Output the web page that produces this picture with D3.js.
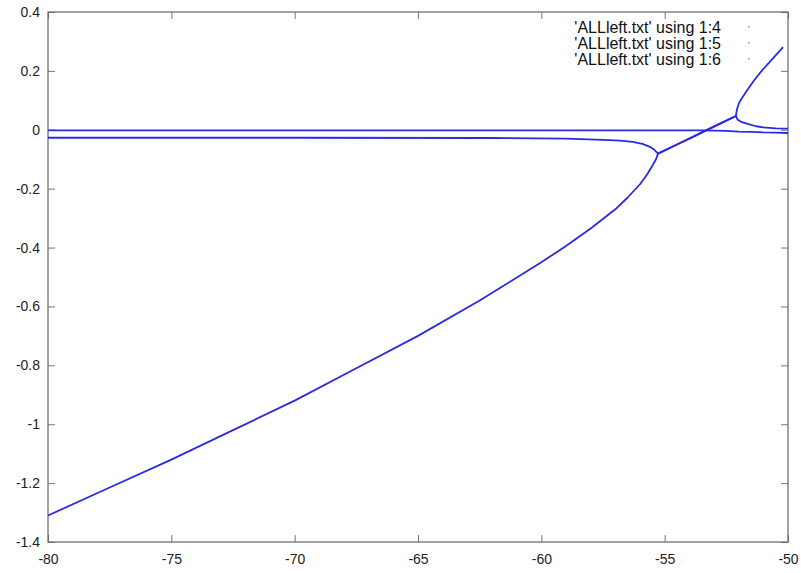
<!DOCTYPE html>
<html>
<head>
<meta charset="utf-8">
<script src="https://cdn.jsdelivr.net/npm/d3@7"></script>
<style>
  body { margin: 0; background: #fff; }
  .axis text { font-family: "Liberation Sans", Arial, sans-serif; font-size: 14px; fill: #222; }
  .axis line { stroke: #777; }
  .axis path { display: none; }
  .key { font-family: "Liberation Sans", Arial, sans-serif; font-size: 16px; fill: #111; }
</style>
</head>
<body>
<div class="chart"></div>
<script>
// ticks
var xTicks = [-80, -75, -70, -65, -60, -55, -50]
var yTicks = [0.4, 0.2, 0, -0.2, -0.4, -0.6, -0.8, -1, -1.2, -1.4]

var keys = ["'ALLleft.txt' using 1:4", "'ALLleft.txt' using 1:5", "'ALLleft.txt' using 1:6"]

// column 4 : flat branch near zero
var x4 = [-80, -70, -60, -55, -53.5, -53, -52.5, -52, -51.5, -51, -50.5, -50]
var y4 = [-0.002, -0.002, -0.002, -0.002, -0.002, -0.003, -0.004, -0.006, -0.007, -0.009, -0.010, -0.011]

// column 5 : small branch, merges at fold, splits again and rises
var x5 = [-80, -70, -62, -59, -57.5, -56.8, -56.3, -55.9, -55.6, -55.45, -55.27,
          -54.5, -54, -53.3, -52.5, -52.11,
          -52.09, -52.05, -51.98, -51.85, -51.65, -51.4, -51.1, -50.6, -50.2]
var y5 = [-0.027, -0.027, -0.028, -0.030, -0.034, -0.037, -0.041, -0.048, -0.058, -0.066, -0.081,
          -0.050, -0.030, -0.001, 0.031, 0.047,
          0.060, 0.075, 0.092, 0.110, 0.135, 0.165, 0.197, 0.243, 0.281]

// column 6 : steep lower branch, same real part through the pair, then decays to zero
var x6 = [-80, -77.5, -75, -72.5, -70, -67.5, -65, -62.5, -60, -59, -58, -57, -56.5, -56, -55.7, -55.5, -55.35, -55.27,
          -54.5, -54, -53.3, -52.5, -52.11,
          -52.05, -51.9, -51.67, -51.3, -51.0, -50.5, -50]
var y6 = [-1.31, -1.215, -1.12, -1.02, -0.92, -0.81, -0.70, -0.58, -0.45, -0.395, -0.335, -0.27, -0.23, -0.185, -0.15, -0.122, -0.10, -0.081,
          -0.050, -0.030, -0.001, 0.031, 0.047,
          0.035, 0.027, 0.021, 0.012, 0.008, 0.005, 0.004]

var series = [[x4, y4], [x5, y5], [x6, y6]]

var W = 801, H = 573
var pLeft = 48, pRight = 788, pTop = 12, pBottom = 542

let svg = d3.select('div.chart').append('svg').attr('width', W).attr('height', H)

//Scale
let xScale = d3.scaleLinear().domain([-80, -50]).range([pLeft, pRight])
let yScale = d3.scaleLinear().domain([-1.4, 0.4]).range([pBottom, pTop])

//Axis (ticks point inward, mirrored on the other side)
svg.append('g').attr('class', 'axis')
  .attr('transform', 'translate(0,' + pBottom + ')')
  .call(d3.axisBottom(xScale).tickValues(xTicks).tickSize(-7).tickPadding(12).tickFormat(d => String(d)))

svg.append('g').attr('class', 'axis')
  .attr('transform', 'translate(0,' + pTop + ')')
  .call(d3.axisTop(xScale).tickValues(xTicks).tickSize(-7).tickFormat(''))

svg.append('g').attr('class', 'axis')
  .attr('transform', 'translate(' + pLeft + ',0)')
  .call(d3.axisLeft(yScale).tickValues(yTicks).tickSize(-7).tickPadding(8).tickFormat(d => String(d)))

svg.append('g').attr('class', 'axis')
  .attr('transform', 'translate(' + pRight + ',0)')
  .call(d3.axisRight(yScale).tickValues(yTicks).tickSize(-7).tickFormat(''))

//border
svg.append('rect')
  .attr('x', pLeft).attr('y', pTop)
  .attr('width', pRight - pLeft).attr('height', pBottom - pTop)
  .attr('fill', 'none').attr('stroke', '#666').attr('stroke-width', 1.2)

//curves
var line = d3.line()
  .x(d => xScale(d[0]))
  .y(d => yScale(d[1]))

svg.append('g')
  .selectAll('path')
  .data(series)
  .enter()
  .append('path')
  .attr('d', s => line(s[0].map((v, i) => [v, s[1][i]])))
  .attr('fill', 'none')
  .attr('stroke', '#2a2ae4')
  .attr('stroke-width', 1.8)
  .attr('stroke-linejoin', 'round')

//key
var key = svg.append('g')
keys.forEach((k, i) => {
  key.append('text')
    .attr('class', 'key')
    .attr('x', 721)
    .attr('y', 27 + i * 16)
    .attr('dy', '0.35em')
    .attr('text-anchor', 'end')
    .text(k)
  key.append('rect')
    .attr('x', 748).attr('y', 26 + i * 16)
    .attr('width', 1.5).attr('height', 1.5)
    .attr('fill', '#999')
})
</script>
</body>
</html>
